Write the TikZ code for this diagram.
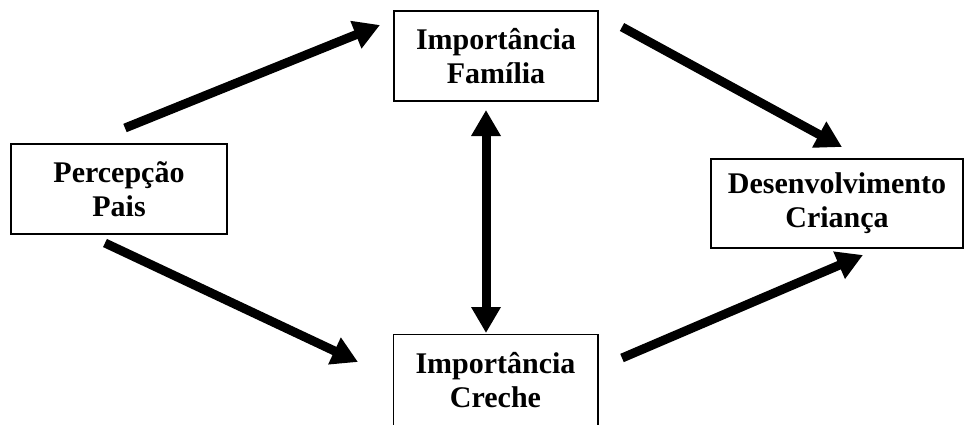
\documentclass[tikz,border=0pt]{standalone}
\usepackage{fontspec}
\setmainfont{Liberation Serif}
\usetikzlibrary{arrows.meta}
\begin{document}
\begin{tikzpicture}[x=1pt,y=-1pt,
  box/.style={draw, line width=1.5pt, inner sep=0pt, align=center,
    font=\fontsize{30}{34}\selectfont\bfseries},
  bigarrow/.style={line width=9pt, -{Triangle[length=26pt,width=28pt]}},
  dblarrow/.style={line width=9pt, {Triangle[length=26pt,width=28pt]}-{Triangle[length=26pt,width=28pt]}}
  ]
\useasboundingbox (0,0) rectangle (967,424);
\node[box, minimum width=216pt, minimum height=90pt] (pp) at (119,189) {Percepção\\Pais};
\node[box, minimum width=204pt, minimum height=90pt] (fam) at (496,56) {Importância\\Família};
\node[box, draw=none, minimum width=203pt, minimum height=90pt] (cre) at (495.5,380) {Importância\\Creche};
\draw[line width=1.5pt] (cre.north west) rectangle ([yshift=-8pt]cre.south east);
\node[box, minimum width=252pt, minimum height=89pt] (dev) at (837,203.5) {Desenvolvimento\\Criança};

\coordinate (a1s) at (125,128);
\coordinate (a1e) at (380,25);
\coordinate (a2s) at (105,243);
\coordinate (a2e) at (358,362);
\coordinate (a3s) at (622,27);
\coordinate (a3e) at (842,147);
\coordinate (a4s) at (622,358);
\coordinate (a4e) at (863,255);
\coordinate (a5s) at (486,110);
\coordinate (a5e) at (486,333);

\draw[bigarrow] (a1s) -- (a1e);
\draw[bigarrow] (a2s) -- (a2e);
\draw[bigarrow] (a3s) -- (a3e);
\draw[bigarrow] (a4s) -- (a4e);
\draw[dblarrow] (a5s) -- (a5e);
\end{tikzpicture}
\end{document}
